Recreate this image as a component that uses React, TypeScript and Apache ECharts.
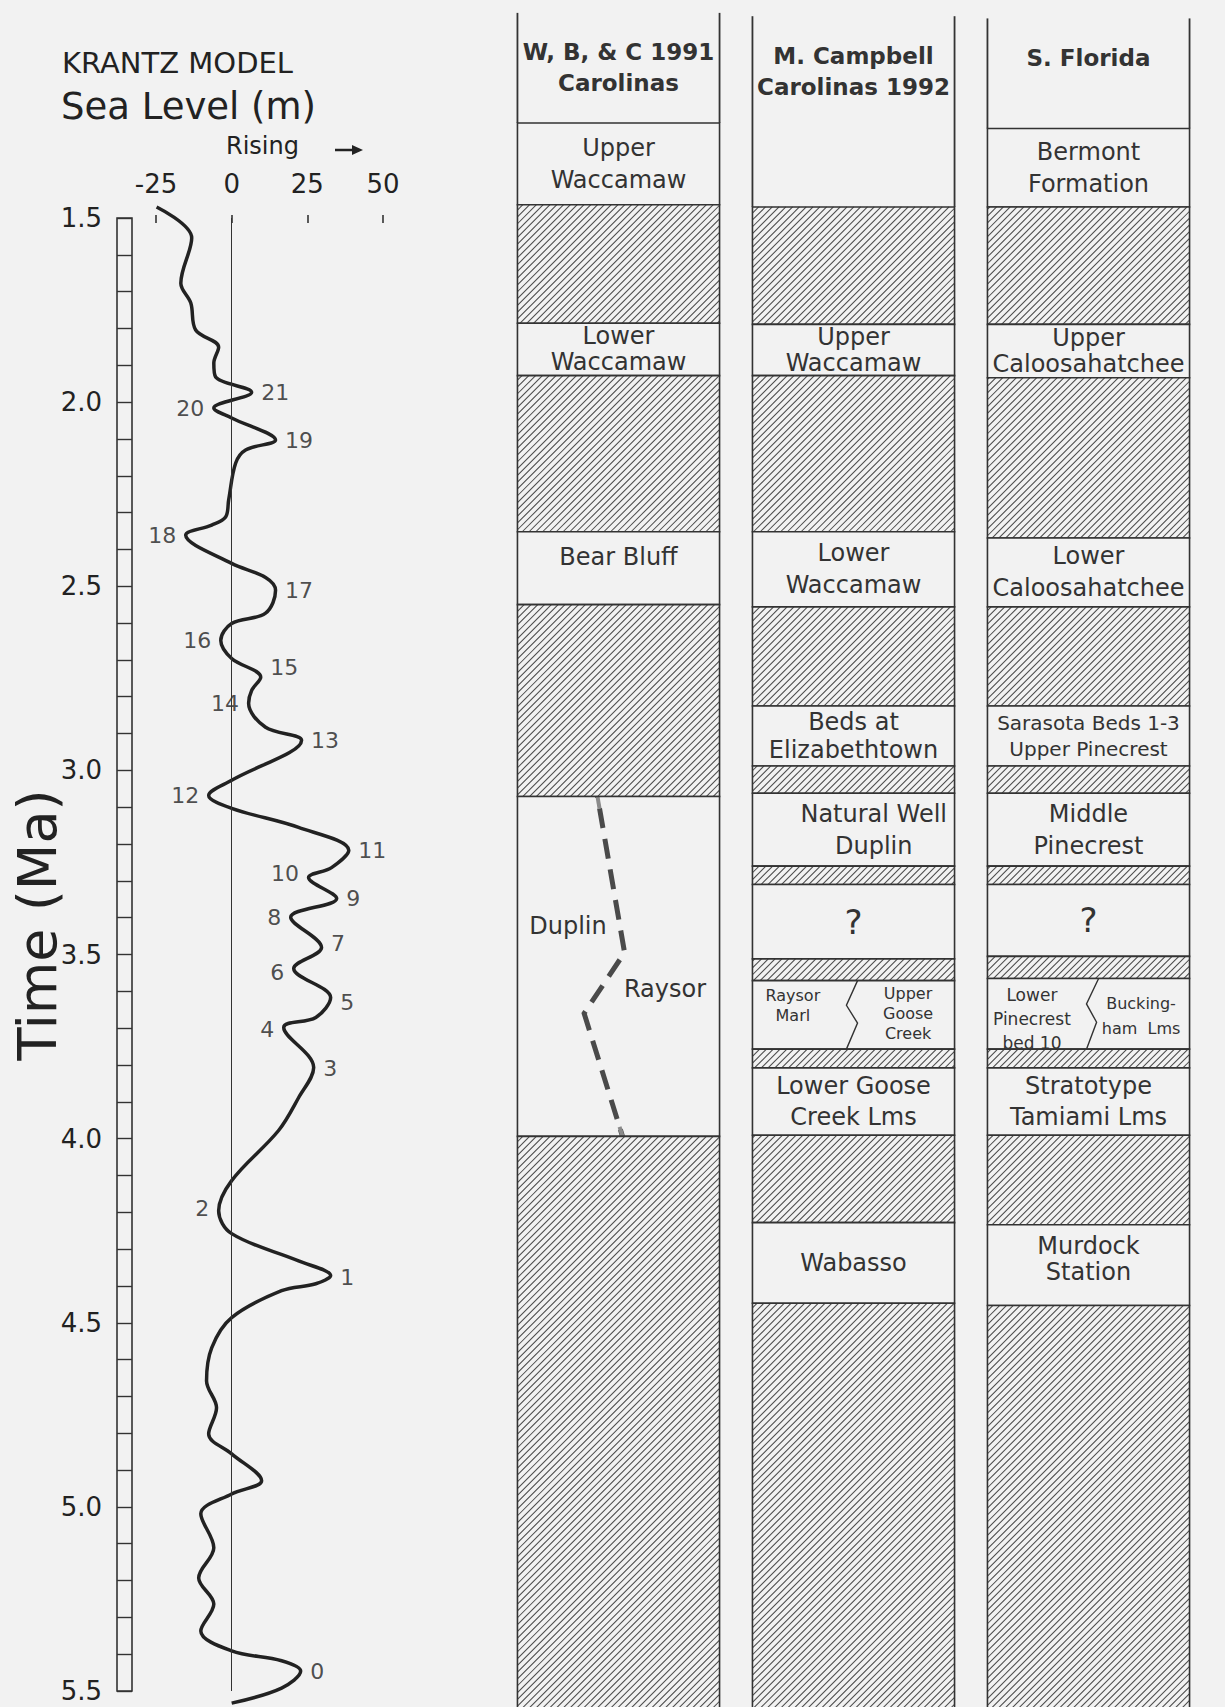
import React, { useEffect, useRef } from 'react';
import * as echarts from 'echarts';

// ---- Krantz model sea-level curve (time in Ma, sea level in m) ----
const timeMa = [
  1.47, 1.554, 1.677, 1.731, 1.804, 1.851, 1.894, 1.932, 1.973, 2.016,
  2.043, 2.103, 2.13, 2.166, 2.266, 2.312, 2.334, 2.361, 2.438, 2.476,
  2.511, 2.573, 2.601, 2.647, 2.696, 2.747, 2.783, 2.818, 2.883, 2.918,
  3.027, 3.068, 3.103, 3.155, 3.217, 3.264, 3.291, 3.348, 3.399, 3.481,
  3.538, 3.617, 3.671, 3.698, 3.807, 3.889, 3.978, 4.114, 4.196, 4.258,
  4.332, 4.372, 4.394, 4.413, 4.486, 4.568, 4.658, 4.731, 4.802, 4.856,
  4.929, 4.965, 5.019, 5.111, 5.193, 5.264, 5.337, 5.391, 5.418, 5.446,
  5.492, 5.533,
];
const seaLevel = [
  -24.8, -13.2, -16.8, -13.5, -11.9, -4.3, -5.9, -5.3, 6.6, -5.9,
  0, 14.5, 4.6, 1.3, -1.0, -2.0, -6.6, -15.2, 0, 11.2,
  14.5, 11.2, 0, -3.6, 0, 9.6, 6.6, 5.6, 11.2, 23.1,
  0, -7.6, 0, 22.1, 38.7, 33.0, 25.4, 34.7, 19.5, 29.7,
  20.5, 32.7, 27.8, 17.2, 27.1, 22.1, 15.5, 0, -4.3, 0,
  22.1, 32.7, 27.8, 16.5, 0, -6.6, -8.3, -5.0, -7.6, 0,
  9.9, 0, -10.2, -5.9, -10.9, -5.9, -10.2, 0, 16.5, 22.8,
  16.5, 0,
];

// numbered highstands / lowstands
const peakNumbers = ['21', '20', '19', '18', '17', '16', '15', '14', '13', '12', '11', '10', '9', '8', '7', '6', '5', '4', '3', '2', '1', '0'];
const peakTime = [1.973, 2.016, 2.103, 2.361, 2.511, 2.647, 2.72, 2.818, 2.918, 3.068, 3.217, 3.28, 3.348, 3.399, 3.47, 3.55, 3.63, 3.705, 3.81, 4.19, 4.377, 5.446];
const peakLevel = [6.6, -5.9, 14.5, -15.2, 14.5, -3.6, 9.6, 5.6, 23.1, -7.6, 38.7, 25.4, 34.7, 19.5, 29.7, 20.5, 32.7, 17.2, 27.1, -4.3, 32.7, 22.8];
const peakSide = ['r', 'l', 'r', 'l', 'r', 'l', 'r', 'l', 'r', 'l', 'r', 'l', 'r', 'l', 'r', 'l', 'r', 'l', 'r', 'l', 'r', 'r'];

const seaLevelTicks = [-25, 0, 25, 50];
const timeLabelTicks = [1.5, 2.0, 2.5, 3.0, 3.5, 4.0, 4.5, 5.0, 5.5];

// ---- Stratigraphic columns: [kind, top (Ma), bottom (Ma), label, label2] ----
const columnNames = ['W, B, & C 1991 Carolinas', 'M. Campbell Carolinas 1992', 'S. Florida'];
const colWBC = [
  ['header', 0.943, 1.242, 'W, B, & C 1991\nCarolinas'],
  ['bed', 1.242, 1.464, 'Upper\nWaccamaw'],
  ['gap', 1.464, 1.786],
  ['bed', 1.786, 1.928, 'Lower\nWaccamaw'],
  ['gap', 1.928, 2.352],
  ['bed', 2.352, 2.55, 'Bear Bluff'],
  ['gap', 2.55, 3.071],
  ['facies', 3.071, 3.994, 'Duplin', 'Raysor'],
  ['gap', 3.994, 5.55],
];
const colCampbell = [
  ['header', 0.952, 1.47, 'M. Campbell\nCarolinas 1992'],
  ['gap', 1.47, 1.789],
  ['bed', 1.789, 1.928, 'Upper\nWaccamaw'],
  ['gap', 1.928, 2.352],
  ['bed', 2.352, 2.556, 'Lower\nWaccamaw'],
  ['gap', 2.556, 2.825],
  ['bed', 2.825, 2.988, 'Beds at\nElizabethtown'],
  ['gap', 2.988, 3.062],
  ['bed', 3.062, 3.26, 'Natural Well\nDuplin'],
  ['gap', 3.26, 3.31],
  ['bed', 3.31, 3.512, '?'],
  ['gap', 3.512, 3.571],
  ['split', 3.571, 3.757, 'Raysor\nMarl', 'Upper\nGoose\nCreek'],
  ['gap', 3.757, 3.808],
  ['bed', 3.808, 3.991, 'Lower Goose\nCreek Lms'],
  ['gap', 3.991, 4.228],
  ['bed', 4.228, 4.447, 'Wabasso'],
  ['gap', 4.447, 5.55],
];
const colFlorida = [
  ['header', 0.958, 1.257, 'S. Florida'],
  ['bed', 1.257, 1.47, 'Bermont\nFormation'],
  ['gap', 1.47, 1.789],
  ['bed', 1.789, 1.934, 'Upper\nCaloosahatchee'],
  ['gap', 1.934, 2.369],
  ['bed', 2.369, 2.556, 'Lower\nCaloosahatchee'],
  ['gap', 2.556, 2.825],
  ['bed', 2.825, 2.988, 'Sarasota Beds 1-3\nUpper Pinecrest'],
  ['gap', 2.988, 3.062],
  ['bed', 3.062, 3.26, 'Middle\nPinecrest'],
  ['gap', 3.26, 3.31],
  ['bed', 3.31, 3.505, '?'],
  ['gap', 3.505, 3.565],
  ['split', 3.565, 3.757, 'Lower\nPinecrest\nbed 10', 'Bucking-\nham  Lms'],
  ['gap', 3.757, 3.808],
  ['bed', 3.808, 3.991, 'Stratotype\nTamiami Lms'],
  ['gap', 3.991, 4.234],
  ['bed', 4.234, 4.453, 'Murdock\nStation'],
  ['gap', 4.453, 5.55],
];

// ---- styling / layout (not data) ----
const FONT = 'DejaVu Sans';
const BG = '#f2f2f2';
const INK = '#222';
const COL_INK = '#333';
const LINE = '#333';
const COL_RATIO = 0.86;
const HATCH_STEP = 6.8;

const labelLayout: Record<string, { xFrac?: number; yFrac?: number; fs?: number; lh?: number }> = {
  'Bear Bluff': { yFrac: 0.34 },
  'Natural Well\nDuplin': { xFrac: 0.6 },
  'Murdock\nStation': { lh: 26, yFrac: 0.42 },
  'Sarasota Beds 1-3\nUpper Pinecrest': { fs: 20, lh: 26 },
  '?': { fs: 34 },
  Duplin: { xFrac: 0.25, yFrac: 0.38 },
  Raysor: { xFrac: 0.73, yFrac: 0.565 },
  'Raysor\nMarl': { xFrac: 0.2, yFrac: 0.36, fs: 16, lh: 20 },
  'Upper\nGoose\nCreek': { xFrac: 0.77, yFrac: 0.48, fs: 16, lh: 20 },
  'Lower\nPinecrest\nbed 10': { xFrac: 0.22, yFrac: 0.57, fs: 17, lh: 24 },
  'Bucking-\nham  Lms': { xFrac: 0.76, yFrac: 0.53, fs: 16, lh: 25 },
};
const splitShapes: Record<number, number[][]> = {
  1: [[0.52, 0], [0.465, 0.36], [0.52, 0.62], [0.465, 1]],
  2: [[0.55, 0], [0.49, 0.36], [0.54, 0.62], [0.49, 1]],
};
const faciesShape = [[0.396, 0], [0.53, 0.459], [0.33, 0.638], [0.52, 1]];

type Unit = { col: number; kind: string; top: number; bottom: number; label: string; label2: string };
const allUnits: Unit[] = [colWBC, colCampbell, colFlorida].flatMap((col, ci) =>
  col.map((u: any[]) => ({ col: ci, kind: u[0], top: u[1], bottom: u[2], label: u[3] || '', label2: u[4] || '' }))
);

function textEl(text: string, x: number, y: number, fs: number, lh: number, weight = 'normal', vAlign = 'middle') {
  return {
    type: 'text',
    x,
    y,
    silent: true,
    style: {
      text,
      fill: COL_INK,
      fontSize: fs,
      fontFamily: FONT,
      fontWeight: weight,
      align: 'center',
      verticalAlign: vAlign,
      lineHeight: lh,
    },
  };
}

function renderUnit(params: any, api: any) {
  const u = allUnits[params.dataIndex];
  const pTop = api.coord([api.value(0), api.value(1)]);
  const pBot = api.coord([api.value(0), api.value(2)]);
  const band = api.size([1, 0])[0];
  const w = band * COL_RATIO;
  const x0 = pTop[0] - w / 2;
  const x1 = x0 + w;
  const y0 = pTop[1];
  const y1 = pBot[1];
  const h = y1 - y0;
  const children: any[] = [];
  const place = (label: string) => {
    const t = labelLayout[label] || {};
    const fs = t.fs ?? 24;
    const lh = t.lh ?? Math.max(26, Math.min(32, h * 0.47));
    children.push(textEl(label, x0 + w * (t.xFrac ?? 0.5), y0 + h * (t.yFrac ?? 0.5), fs, lh));
  };

  if (u.kind === 'header') {
    children.push({ type: 'line', silent: true, shape: { x1: x0, y1: y0, x2: x0, y2: y1 }, style: { stroke: LINE, lineWidth: 1.8 } });
    children.push({ type: 'line', silent: true, shape: { x1: x1, y1: y0, x2: x1, y2: y1 }, style: { stroke: LINE, lineWidth: 1.8 } });
    children.push(textEl(u.label, pTop[0], y0 + 24, 23, 31, 'bold', 'top'));
    return { type: 'group', children };
  }

  children.push({ type: 'rect', silent: true, shape: { x: x0, y: y0, width: w, height: h }, style: { fill: BG } });

  if (u.kind === 'gap') {
    const start = Math.ceil((x0 + y0) / HATCH_STEP) * HATCH_STEP;
    for (let c = start; c <= x1 + y1; c += HATCH_STEP) {
      const xa = Math.max(x0, c - y1);
      const xb = Math.min(x1, c - y0);
      if (xb <= xa) continue;
      children.push({
        type: 'line',
        silent: true,
        shape: { x1: xa, y1: c - xa, x2: xb, y2: c - xb },
        style: { stroke: '#4a4a4a', lineWidth: 1.05 },
      });
    }
  } else if (u.kind === 'bed') {
    place(u.label);
  } else if (u.kind === 'split') {
    const pts = (splitShapes[u.col] || splitShapes[1]).map((p) => [x0 + w * p[0], y0 + h * p[1]]);
    children.push({ type: 'polyline', silent: true, shape: { points: pts }, style: { stroke: LINE, lineWidth: 1.4, fill: null } });
    place(u.label);
    place(u.label2);
  } else if (u.kind === 'facies') {
    const pts = faciesShape.map((p) => [x0 + w * p[0], y0 + h * p[1]]);
    children.push({
      type: 'polyline',
      silent: true,
      shape: { points: pts },
      style: { stroke: '#4a4a4a', lineWidth: 5, lineDash: [20, 11], lineDashOffset: -12, fill: null },
    });
    // faint stubs where the contact meets the bounding surfaces
    const a = pts[0], b = pts[1];
    const la = Math.hypot(b[0] - a[0], b[1] - a[1]);
    children.push({
      type: 'line',
      silent: true,
      shape: { x1: a[0], y1: a[1], x2: a[0] + ((b[0] - a[0]) * 12) / la, y2: a[1] + ((b[1] - a[1]) * 12) / la },
      style: { stroke: '#8a8a8a', lineWidth: 4 },
    });
    const c = pts[pts.length - 1], d = pts[pts.length - 2];
    const lc = Math.hypot(d[0] - c[0], d[1] - c[1]);
    children.push({
      type: 'line',
      silent: true,
      shape: { x1: c[0], y1: c[1], x2: c[0] + ((d[0] - c[0]) * 10) / lc, y2: c[1] + ((d[1] - c[1]) * 10) / lc },
      style: { stroke: '#8a8a8a', lineWidth: 4 },
    });
    place(u.label);
    place(u.label2);
  }

  children.push({
    type: 'rect',
    silent: true,
    shape: { x: x0, y: y0, width: w, height: h },
    style: { fill: 'none', stroke: LINE, lineWidth: 1.6 },
  });
  return { type: 'group', children };
}

export default function App() {
  const ref = useRef<HTMLDivElement>(null);

  useEffect(() => {
    document.body.style.margin = '0';
    if (!ref.current) return;
    const chart = echarts.init(ref.current, null, { renderer: 'svg' });

    const curve = timeMa.map((t, i) => [seaLevel[i], t]);
    const peaks = peakNumbers.map((n, i) => ({
      name: n,
      value: [peakLevel[i], peakTime[i]],
      label: { position: peakSide[i] === 'r' ? 'right' : 'left', distance: 9 },
    }));

    const option: any = {
      animation: false,
      backgroundColor: BG,
      textStyle: { fontFamily: FONT },
      grid: [
        { left: 156, width: 227, top: 218, height: 1473 },
        { left: 117, width: 15, top: 218, height: 1473, show: true, borderColor: LINE, borderWidth: 1.6, backgroundColor: 'transparent' },
        { left: 501, width: 705, top: 218, height: 1473 },
      ],
      xAxis: [
        {
          gridIndex: 0,
          type: 'value',
          position: 'top',
          min: -25,
          max: 50,
          interval: 25,
          offset: 3,
          axisLine: { show: false },
          axisTick: { show: true, inside: true, length: 8, lineStyle: { color: LINE, width: 1.6 } },
          axisLabel: {
            margin: 18,
            fontSize: 26,
            color: INK,
            fontFamily: FONT,
            formatter: (v: number) => (seaLevelTicks.includes(v) ? String(v) : ''),
          },
          splitLine: { show: false },
        },
        { gridIndex: 1, type: 'value', min: 0, max: 1, show: false },
        { gridIndex: 2, type: 'category', data: columnNames, show: false, boundaryGap: true },
      ],
      yAxis: [
        { gridIndex: 0, type: 'value', inverse: true, min: 1.5, max: 5.5, show: false },
        {
          gridIndex: 1,
          type: 'value',
          inverse: true,
          min: 1.5,
          max: 5.5,
          interval: 0.1,
          position: 'left',
          axisLine: { show: false },
          axisTick: { show: false },
          splitLine: { show: true, lineStyle: { color: LINE, width: 1.4 } },
          axisLabel: {
            margin: 15,
            fontSize: 26,
            color: INK,
            fontFamily: FONT,
            showMinLabel: true,
            showMaxLabel: true,
            formatter: (v: number) => {
              const hit = timeLabelTicks.find((t) => Math.abs(t - v) < 1e-6);
              return hit !== undefined ? hit.toFixed(1) : '';
            },
          },
        },
        { gridIndex: 2, type: 'value', inverse: true, min: 1.5, max: 5.5, show: false },
      ],
      graphic: [
        { type: 'text', x: 62, y: 63, silent: true, style: { text: 'KRANTZ MODEL', fontSize: 29, fontFamily: FONT, fill: INK, verticalAlign: 'middle' } },
        { type: 'text', x: 61, y: 106, silent: true, style: { text: 'Sea Level (m)', fontSize: 37, fontFamily: FONT, fill: INK, verticalAlign: 'middle' } },
        { type: 'text', x: 226, y: 146, silent: true, style: { text: 'Rising', fontSize: 24, fontFamily: FONT, fill: INK, verticalAlign: 'middle' } },
        { type: 'line', silent: true, shape: { x1: 335, y1: 150, x2: 355, y2: 150 }, style: { stroke: INK, lineWidth: 2.5 } },
        { type: 'polygon', silent: true, shape: { points: [[363, 150], [352, 145], [352, 155]] }, style: { fill: INK } },
        {
          type: 'text',
          x: 37,
          y: 925,
          rotation: Math.PI / 2,
          silent: true,
          style: { text: 'Time (Ma)', fontSize: 54, fontFamily: FONT, fill: INK, align: 'center', verticalAlign: 'middle' },
        },
      ],
      series: [
        {
          type: 'line',
          xAxisIndex: 0,
          yAxisIndex: 0,
          data: curve,
          smooth: 0.35,
          symbol: 'none',
          clip: false,
          lineStyle: { color: INK, width: 3.5 },
          markLine: {
            silent: true,
            symbol: 'none',
            label: { show: false },
            lineStyle: { color: LINE, width: 1, type: 'solid' },
            data: [{ xAxis: 0 }],
          },
          z: 3,
        },
        {
          type: 'scatter',
          xAxisIndex: 0,
          yAxisIndex: 0,
          data: peaks,
          symbol: 'circle',
          symbolSize: 1,
          itemStyle: { color: 'rgba(0,0,0,0)' },
          label: { show: true, formatter: '{b}', fontSize: 22, color: INK, fontFamily: FONT },
          z: 4,
        },
        {
          type: 'custom',
          xAxisIndex: 2,
          yAxisIndex: 2,
          data: allUnits.map((u) => [u.col, u.top, u.bottom]),
          renderItem: renderUnit,
          clip: false,
        },
      ],
    };

    chart.setOption(option);
    return () => chart.dispose();
  }, []);

  return <div ref={ref} style={{ width: 1225, height: 1707 }} />;
}
